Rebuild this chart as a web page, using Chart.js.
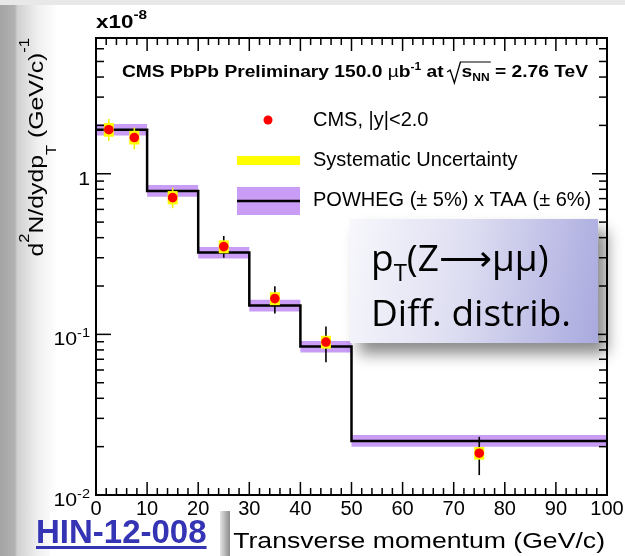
<!DOCTYPE html>
<html>
<head>
<meta charset="utf-8">
<script src="https://cdn.jsdelivr.net/npm/chart.js@4.4.1/dist/chart.umd.min.js"></script>
<style>
  html, body { margin: 0; padding: 0; }
  body {
    width: 625px; height: 556px; position: relative; overflow: hidden;
    background: #fff; font-family: "Liberation Sans", Arial, sans-serif;
  }
  .edge-left {
    position: absolute; left: 0; top: 0; width: 60px; height: 556px;
    background: linear-gradient(to right, #a4a4a4 0px, #b2b2b2 15px, #cfcfcf 17px, #f0f0f0 38px, #fff 58px);
  }
  .edge-top { position: absolute; left: 0; top: 0; width: 625px; height: 5px; background: #e8e8e8; }
  .hin-box { position: absolute; left: 50px; top: 512px; width: 170px; height: 44px; background: #fff; }
  .gap-shadow {
    position: absolute; left: 220px; top: 511px; width: 10px; height: 45px;
    background: linear-gradient(to right, #e4e4e4, #8c8c8c);
  }
  .title-box { position: absolute; left: 230px; top: 511px; width: 395px; height: 45px; background: #fff; }
  #chart { position: absolute; left: 0; top: 0; z-index: 1; }
  .hin {
    position: absolute; left: 36px; top: 513px; z-index: 2;
    font: bold 33px "Liberation Sans", Arial, sans-serif; color: #3434b4;
    text-decoration: underline; text-decoration-thickness: 3px; text-underline-offset: 3px;
  }
  .note {
    position: absolute; left: 350px; top: 219px; width: 248px; height: 124px; z-index: 2;
    box-sizing: border-box; padding: 13px 0 0 21px;
    background: linear-gradient(100deg, #f7f7fc 0%, #dedef2 45%, #a9a9df 100%);
    box-shadow: 9px 11px 14px rgba(0, 0, 0, 0.45);
    font-family: "Open Sans", Lato, sans-serif; font-size: 37px; line-height: 50px; color: #000;
    white-space: nowrap;
  }
  .note .sub { font-size: 24px; position: relative; top: 10px; }
</style>
</head>
<body>
<div class="edge-left"></div>
<div class="edge-top"></div>
<div class="hin-box"></div>
<div class="gap-shadow"></div>
<div class="title-box"></div>
<canvas id="chart" width="625" height="556"></canvas>
<div class="hin">HIN-12-008</div>
<div class="note"><div>p<span class="sub">T</span>(Z⟶µµ)</div><div>Diff. distrib.</div></div>

<script>
// POWHEG prediction, per pT bin (units of 1e-8)
const binEdges = [0, 10, 20, 30, 40, 50, 100];
const powhegValues = [1.88, 0.78, 0.323, 0.151, 0.084, 0.0217];
const powhegHigh = [2.04, 0.85, 0.35, 0.164, 0.091, 0.0236];
const powhegLow = [1.73, 0.72, 0.297, 0.139, 0.077, 0.02];

// CMS data points
const cmsPt = [2.5, 7.5, 15, 25, 35, 45, 75];
const cmsValues = [1.88, 1.68, 0.71, 0.352, 0.167, 0.0896, 0.0182];
const statHigh = [2.19, 1.94, 0.82, 0.41, 0.199, 0.112, 0.023];
const statLow = [1.6, 1.42, 0.61, 0.3, 0.135, 0.067, 0.0133];
const sysHigh = [2.07, 1.85, 0.78, 0.385, 0.183, 0.098, 0.0199];
const sysLow = [1.7, 1.52, 0.645, 0.32, 0.152, 0.0815, 0.0166];

// axis ticks
const xTicks = [0, 10, 20, 30, 40, 50, 60, 70, 80, 90, 100];
const yTickValues = [0.01, 0.1, 1];
const yTickLabels = [["10", "-2"], ["10", "-1"], ["1", ""]];

const FONT = '"Liberation Sans", Arial, sans-serif';
// ROOT's Helvetica renders a bit wider than Liberation Sans at the same height
const WIDEN = 1.18;

function stepData(values) {
  return binEdges.map((edge, i) => ({ x: edge, y: values[Math.min(i, values.length - 1)] }));
}

function line(ctx, x1, y1, x2, y2) {
  ctx.beginPath();
  ctx.moveTo(x1, y1);
  ctx.lineTo(x2, y2);
  ctx.stroke();
}

// draws a run of text pieces: [text, size, dy, bold]
function drawParts(ctx, x, y, parts) {
  let cx = x;
  parts.forEach(([text, size, dy, bold]) => {
    ctx.font = (bold ? "bold " : "") + size + "px " + FONT;
    ctx.fillText(text, cx, y + dy);
    cx += ctx.measureText(text).width;
  });
  return cx;
}

function partsWidth(ctx, parts) {
  let w = 0;
  parts.forEach(([text, size, dy, bold]) => {
    ctx.font = (bold ? "bold " : "") + size + "px " + FONT;
    w += ctx.measureText(text).width;
  });
  return w;
}

const rootStyle = {
  id: "rootStyle",
  beforeDatasetDraw(chart, args) {
    if (args.index !== 0) return;
    const { ctx, scales: { x, y } } = chart;
    ctx.save();
    cmsPt.forEach((pt, i) => {
      const px = x.getPixelForValue(pt);
      ctx.strokeStyle = i < 3 ? "#f2f200" : "#000";
      ctx.lineWidth = 1.6;
      line(ctx, px, y.getPixelForValue(statHigh[i]), px, y.getPixelForValue(statLow[i]));
      const top = y.getPixelForValue(sysHigh[i]);
      const bot = y.getPixelForValue(sysLow[i]);
      ctx.fillStyle = "#ffff00";
      ctx.fillRect(px - 5, top, 10, bot - top);
    });
    ctx.restore();
  },
  afterDatasetsDraw(chart) {
    const { ctx, chartArea: ca, scales: { x, y } } = chart;
    ctx.save();

    // frame + inward ticks
    ctx.strokeStyle = "#000";
    ctx.lineWidth = 2;
    ctx.strokeRect(ca.left, ca.top, ca.width, ca.height);
    ctx.lineWidth = 1.5;
    for (let v = 0; v <= 100; v += 2) {
      const px = x.getPixelForValue(v);
      const len = v % 10 === 0 ? 13 : 7;
      line(ctx, px, ca.bottom, px, ca.bottom - len);
      line(ctx, px, ca.top, px, ca.top + len);
    }
    yTickValues.forEach((decade) => {
      for (let m = 1; m <= 9; m++) {
        const v = m * decade;
        if (v > y.max) break;
        const py = y.getPixelForValue(v);
        const len = m === 1 ? 15 : 8;
        line(ctx, ca.left, py, ca.left + len, py);
        line(ctx, ca.right, py, ca.right - len, py);
      }
    });

    // y tick labels with superscripts
    ctx.fillStyle = "#000";
    ctx.textBaseline = "alphabetic";
    ctx.textAlign = "left";
    yTickValues.forEach((v, i) => {
      const py = y.getPixelForValue(v);
      const [main, sup] = yTickLabels[i];
      const parts = [[main, 19, 11, false], [sup, 13, 3, false]];
      const w = partsWidth(ctx, parts) * 1.12;
      ctx.save();
      ctx.translate(ca.left - 6 - w, py);
      ctx.scale(1.12, 1);
      drawParts(ctx, 0, 0, parts);
      ctx.restore();
    });

    // exponent above the axis
    ctx.save();
    ctx.translate(ca.left, 28);
    ctx.scale(WIDEN, 1);
    drawParts(ctx, 0, 0, [["x10", 19, 0, true], ["-8", 13, -9, true]]);
    ctx.restore();

    // y axis title, rotated, right-aligned to the top
    const yTitle = [
      ["d", 21, 0], ["2", 14, -14], ["N/dydp", 21, 0], ["T", 14, 13],
      [" (GeV/c)", 21, 0], ["-1", 14, -14]
    ];
    const tw = partsWidth(ctx, yTitle) * WIDEN;
    ctx.save();
    ctx.translate(43, ca.top + tw);
    ctx.rotate(-Math.PI / 2);
    ctx.scale(WIDEN, 1);
    drawParts(ctx, 0, 0, yTitle);
    ctx.restore();

    // x axis title, right-aligned to the axis end
    ctx.save();
    ctx.font = "22px " + FONT;
    const xt = "Transverse momentum (GeV/c)";
    const xw = ctx.measureText(xt).width * 1.21;
    ctx.translate(ca.right - 2 - xw, 548);
    ctx.scale(1.21, 1);
    ctx.fillText(xt, 0, 0);
    ctx.restore();

    // header line
    ctx.save();
    ctx.translate(122, 77);
    ctx.scale(WIDEN + 0.02, 1);
    let hx = drawParts(ctx, 0, 0, [["CMS PbPb Preliminary 150.0 ", 16, 0, true]]);
    hx = drawParts(ctx, hx, 0, [["µ", 16, 0, false], ["b", 16, 0, true], ["-1", 10, -7, true], [" at", 16, 0, true]]);
    const rx = hx + 3;
    const sx = drawParts(ctx, rx + 12, 0, [["s", 16, 0, true], ["NN", 10, 4, true]]);
    ctx.lineWidth = 1.1;
    ctx.beginPath();
    ctx.moveTo(rx, -5);
    ctx.lineTo(rx + 2.5, -7);
    ctx.lineTo(rx + 6, 6);
    ctx.lineTo(rx + 11, -15);
    ctx.lineTo(sx + 1, -15);
    ctx.stroke();
    drawParts(ctx, sx, 0, [[" = 2.76 TeV", 16, 0, true]]);
    ctx.restore();

    // legend
    ctx.fillStyle = "#ff0000";
    ctx.beginPath();
    ctx.arc(268, 120, 4.5, 0, Math.PI * 2);
    ctx.fill();
    ctx.fillStyle = "#ffff00";
    ctx.fillRect(237, 156, 63, 9);
    ctx.fillStyle = "#c99cf6";
    ctx.fillRect(237, 187, 63, 28);
    ctx.strokeStyle = "#000";
    ctx.lineWidth = 2.5;
    line(ctx, 237, 201, 300, 201);
    ctx.fillStyle = "#000";
    ctx.textBaseline = "middle";
    ctx.font = "20px " + FONT;
    ctx.fillText("CMS, |y|<2.0", 313, 120);
    ctx.fillText("Systematic Uncertainty", 313, 160);
    ctx.fillText("POWHEG (± 5%) x TAA (± 6%)", 313, 200);

    ctx.restore();
  }
};

new Chart(document.getElementById("chart"), {
  type: "line",
  data: {
    datasets: [
      {
        label: "CMS, |y|<2.0",
        data: cmsPt.map((pt, i) => ({ x: pt, y: cmsValues[i] })),
        showLine: false,
        pointRadius: 4.8,
        pointBackgroundColor: "#ff0000",
        pointBorderWidth: 0,
        order: 0
      },
      {
        label: "POWHEG",
        data: stepData(powhegValues),
        stepped: "before",
        borderColor: "#000",
        borderWidth: 2.5,
        pointRadius: 0,
        fill: false,
        order: 1
      },
      {
        label: "band high",
        data: stepData(powhegHigh),
        stepped: "before",
        borderColor: "transparent",
        borderWidth: 0,
        pointRadius: 0,
        backgroundColor: "#c99cf6",
        fill: "+1",
        order: 2
      },
      {
        label: "band low",
        data: stepData(powhegLow),
        stepped: "before",
        borderColor: "transparent",
        borderWidth: 0,
        pointRadius: 0,
        fill: false,
        order: 3
      }
    ]
  },
  options: {
    responsive: false,
    animation: false,
    devicePixelRatio: 1,
    layout: { padding: { top: 38, right: 18, left: 0, bottom: 0 } },
    plugins: { legend: { display: false }, tooltip: { enabled: false } },
    scales: {
      x: {
        type: "linear",
        min: 0,
        max: 100,
        afterBuildTicks: (s) => { s.ticks = xTicks.map((v) => ({ value: v })); },
        afterFit: (s) => { s.height = 61; s.paddingLeft = 0; s.paddingRight = 0; },
        grid: { display: false, drawTicks: false },
        border: { display: false },
        ticks: { color: "#000", font: { family: FONT, size: 20 }, padding: 2, maxRotation: 0, autoSkip: false }
      },
      y: {
        type: "logarithmic",
        min: 0.01,
        max: 7,
        afterFit: (s) => { s.width = 96; },
        grid: { display: false, drawTicks: false },
        border: { display: false },
        ticks: { display: false }
      }
    }
  },
  plugins: [rootStyle]
});
</script>
</body>
</html>
